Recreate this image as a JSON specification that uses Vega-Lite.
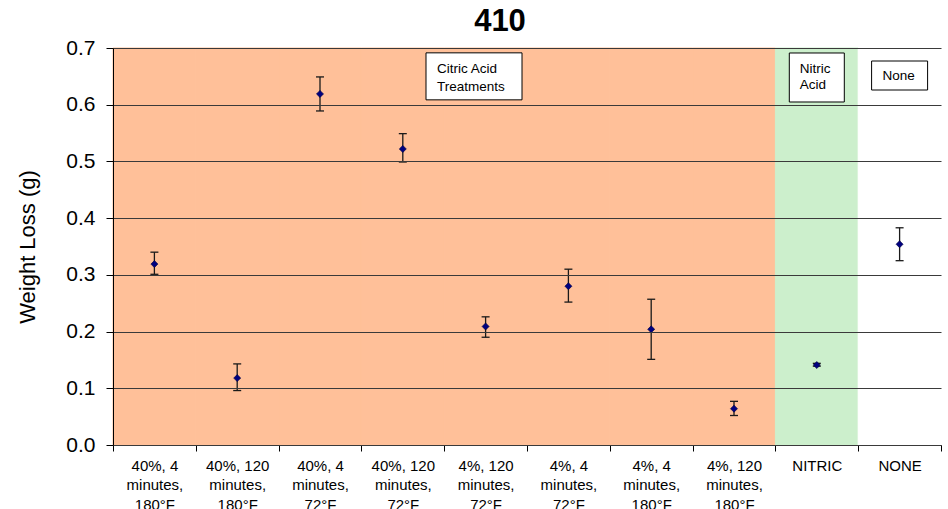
{
  "$schema": "https://vega.github.io/schema/vega-lite/v6.json",
  "autosize": {"type": "none"},
  "width": 828,
  "height": 397,
  "padding": {"left": 113, "top": 48, "right": 7, "bottom": 64},
  "background": "white",
  "config": {"view": {"stroke": null}},
  "title": {"text": "410", "fontSize": 31, "fontWeight": "bold", "font": "Liberation Sans", "color": "black", "anchor": "middle", "offset": 12, "dy": 13, "dx": -27},
  "datasets": {
    "points": [
      {"cat": "40%, 4 minutes, 180°F", "group": "Citric", "mean": 0.319, "lo": 0.301, "hi": 0.340},
      {"cat": "40%, 120 minutes, 180°F", "group": "Citric", "mean": 0.118, "lo": 0.096, "hi": 0.143},
      {"cat": "40%, 4 minutes, 72°F", "group": "Citric", "mean": 0.619, "lo": 0.589, "hi": 0.649},
      {"cat": "40%, 120 minutes, 72°F", "group": "Citric", "mean": 0.522, "lo": 0.499, "hi": 0.549},
      {"cat": "4%, 120 minutes, 72°F", "group": "Citric", "mean": 0.209, "lo": 0.190, "hi": 0.226},
      {"cat": "4%, 4 minutes, 72°F", "group": "Citric", "mean": 0.280, "lo": 0.252, "hi": 0.310},
      {"cat": "4%, 4 minutes, 180°F", "group": "Citric", "mean": 0.204, "lo": 0.151, "hi": 0.257},
      {"cat": "4%, 120 minutes, 180°F", "group": "Citric", "mean": 0.064, "lo": 0.052, "hi": 0.077},
      {"cat": "NITRIC", "group": "Nitric", "mean": 0.141, "lo": 0.139, "hi": 0.144},
      {"cat": "NONE", "group": "None", "mean": 0.354, "lo": 0.325, "hi": 0.383}
    ],
    "notes": [
      {"cat": "4%, 120 minutes, 72°F", "note": "Citric Acid\nTreatments"},
      {"cat": "NITRIC", "note": "Nitric\nAcid"},
      {"cat": "NONE", "note": "None"}
    ]
  },
  "data": {"name": "points"},
  "encoding": {
    "x": {
      "field": "cat", "type": "nominal",
      "sort": ["40%, 4 minutes, 180°F", "40%, 120 minutes, 180°F", "40%, 4 minutes, 72°F", "40%, 120 minutes, 72°F", "4%, 120 minutes, 72°F", "4%, 4 minutes, 72°F", "4%, 4 minutes, 180°F", "4%, 120 minutes, 180°F", "NITRIC", "NONE"],
      "scale": {"paddingInner": 0, "paddingOuter": 0},
      "axis": {
        "title": null, "labelAngle": 0, "tickBand": "extent", "tickSize": 6, "tickColor": "black",
        "domainColor": "black", "labelFontSize": 15, "labelFont": "Liberation Sans", "labelColor": "black",
        "labelLineHeight": 19.5, "labelPadding": 7, "labelBaseline": "top", "labelLimit": 0, "labelOverlap": false,
        "labelExpr": "length(split(datum.label, ' minutes, ')) > 1 ? [split(datum.label, ' minutes, ')[0], 'minutes,', split(datum.label, ' minutes, ')[1]] : datum.label"
      }
    }
  },
  "layer": [
    {
      "mark": {"type": "bar", "strokeWidth": 1},
      "encoding": {
        "y": {
          "datum": 0.7, "type": "quantitative", "title": "Weight Loss (g)",
          "scale": {"domain": [0, 0.7], "nice": false, "zero": true},
          "axis": {
            "values": [0, 0.1, 0.2, 0.3, 0.4, 0.5, 0.6, 0.7], "format": ".1f", "grid": true,
            "gridColor": "#3a3a3a", "gridWidth": 1, "zindex": 1, "tickSize": 7, "tickColor": "black",
            "domainColor": "black", "labelFontSize": 21, "labelFont": "Liberation Sans", "labelColor": "black",
            "labelPadding": 11, "titleFontSize": 22, "titleFont": "Liberation Sans", "titleFontWeight": "normal",
            "titleColor": "black", "titleX": -86, "titleY": 198.5, "titleAngle": -90, "titleBaseline": "middle", "titleAlign": "center"
          }
        },
        "color": {"field": "group", "type": "nominal", "scale": {"domain": ["Citric", "Nitric", "None"], "range": ["#FFC099", "#CCEFCC", "#FFFFFF"]}, "legend": null},
        "stroke": {"field": "group", "type": "nominal", "scale": {"domain": ["Citric", "Nitric", "None"], "range": ["#FFC099", "#CCEFCC", "#FFFFFF"]}, "legend": null}
      }
    },
    {
      "mark": {"type": "rule", "color": "#1a1a1a", "strokeWidth": 1.3},
      "encoding": {
        "y": {"field": "lo", "type": "quantitative", "title": "Weight Loss (g)"},
        "y2": {"field": "hi"}
      }
    },
    {
      "mark": {"type": "tick", "color": "#1a1a1a", "size": 8, "thickness": 1.3, "opacity": 1},
      "encoding": {"y": {"field": "lo", "type": "quantitative", "title": "Weight Loss (g)"}}
    },
    {
      "mark": {"type": "tick", "color": "#1a1a1a", "size": 8, "thickness": 1.3, "opacity": 1},
      "encoding": {"y": {"field": "hi", "type": "quantitative", "title": "Weight Loss (g)"}}
    },
    {
      "mark": {"type": "point", "shape": "diamond", "filled": true, "fill": "#000080", "stroke": "#000040", "strokeWidth": 0.6, "size": 50, "opacity": 1},
      "encoding": {"y": {"field": "mean", "type": "quantitative", "title": "Weight Loss (g)"}}
    },
    {
      "data": {"name": "notes"},
      "transform": [{"filter": "datum.cat == '4%, 120 minutes, 72°F'"}],
      "mark": {"type": "point", "shape": "M-0.96,-0.47H0.96V0.47H-0.96Z", "size": 10000, "filled": true, "fill": "white", "stroke": "black", "strokeWidth": 1, "opacity": 1},
      "encoding": {
        "x": {"field": "cat", "type": "nominal", "bandPosition": 0.36},
        "y": {"datum": 0.65, "type": "quantitative", "title": "Weight Loss (g)"}
      }
    },
    {
      "data": {"name": "notes"},
      "transform": [{"filter": "datum.cat == 'NITRIC'"}],
      "mark": {"type": "point", "shape": "M-0.55,-0.49H0.55V0.49H-0.55Z", "size": 10000, "filled": true, "fill": "white", "stroke": "black", "strokeWidth": 1, "opacity": 1},
      "encoding": {
        "y": {"datum": 0.648, "type": "quantitative", "title": "Weight Loss (g)"}
      }
    },
    {
      "data": {"name": "notes"},
      "transform": [{"filter": "datum.cat == 'NONE'"}],
      "mark": {"type": "point", "shape": "M-0.56,-0.29H0.56V0.29H-0.56Z", "size": 10000, "filled": true, "fill": "white", "stroke": "black", "strokeWidth": 1, "opacity": 1},
      "encoding": {
        "y": {"datum": 0.6515, "type": "quantitative", "title": "Weight Loss (g)"}
      }
    },
    {
      "data": {"name": "notes"},
      "transform": [{"filter": "datum.cat == '4%, 120 minutes, 72°F'"}],
      "mark": {"type": "text", "align": "left", "baseline": "middle", "dx": -37, "lineBreak": "\n", "lineHeight": 18, "font": "Liberation Sans", "fontSize": 13.5, "color": "black"},
      "encoding": {
        "x": {"field": "cat", "type": "nominal", "bandPosition": 0.36},
        "y": {"datum": 0.663, "type": "quantitative", "title": "Weight Loss (g)"},
        "text": {"field": "note"}
      }
    },
    {
      "data": {"name": "notes"},
      "transform": [{"filter": "datum.cat == 'NITRIC'"}],
      "mark": {"type": "text", "align": "left", "baseline": "middle", "dx": -17, "lineBreak": "\n", "lineHeight": 16, "font": "Liberation Sans", "fontSize": 13.5, "color": "black"},
      "encoding": {
        "y": {"datum": 0.6635, "type": "quantitative", "title": "Weight Loss (g)"},
        "text": {"field": "note"}
      }
    },
    {
      "data": {"name": "notes"},
      "transform": [{"filter": "datum.cat == 'NONE'"}],
      "mark": {"type": "text", "align": "left", "baseline": "middle", "dx": -17, "font": "Liberation Sans", "fontSize": 13.5, "color": "black"},
      "encoding": {
        "y": {"datum": 0.6506, "type": "quantitative", "title": "Weight Loss (g)"},
        "text": {"field": "note"}
      }
    }
  ]
}
